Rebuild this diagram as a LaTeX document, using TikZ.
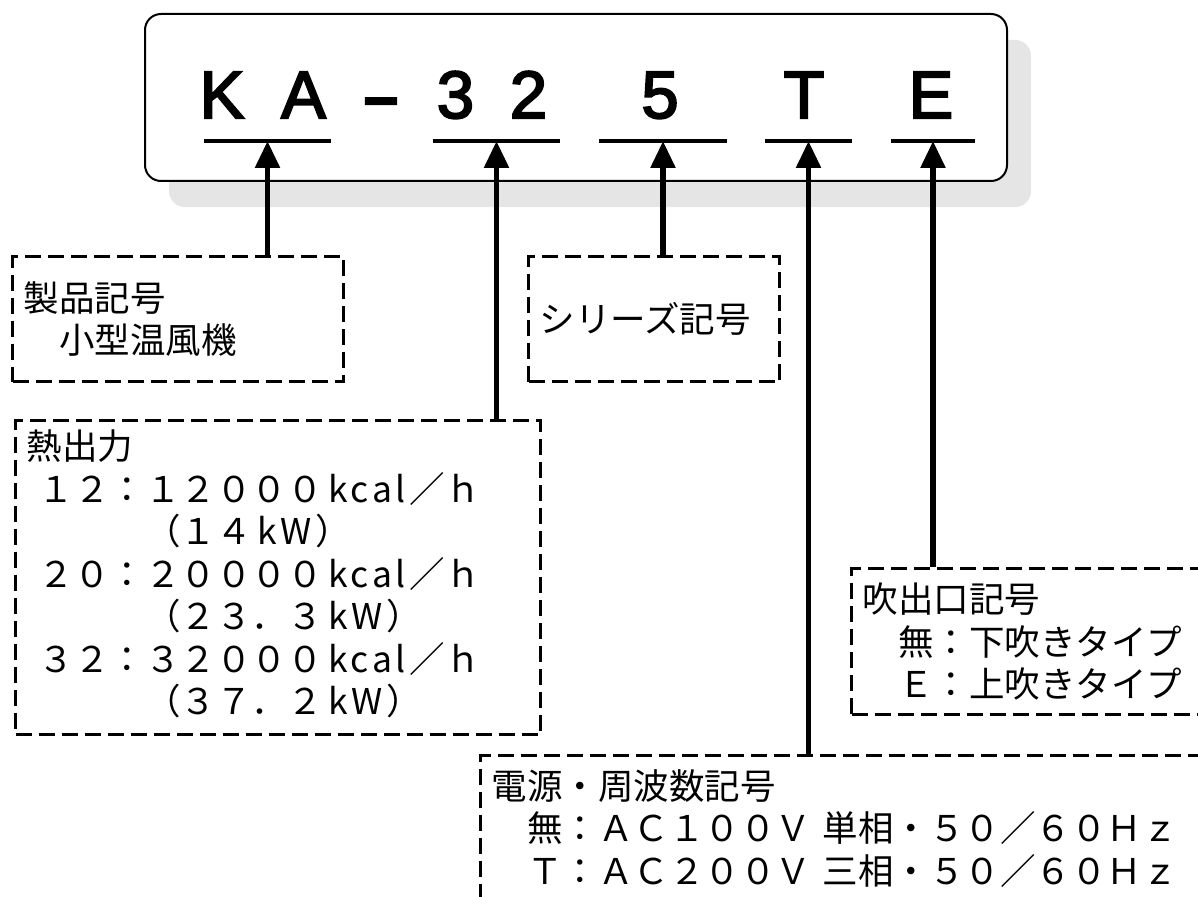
\documentclass[tikz,border=0pt]{standalone}
\usepackage{fontspec}
\setmainfont{Noto Sans CJK JP}
\newfontfamily\codefont[FakeBold=3]{Liberation Sans}
\newcommand\spaced[1]{\hspace{6pt}{\addfontfeature{LetterSpace=10}#1}\hspace{4pt}}
\usetikzlibrary{arrows.meta}
\usetikzlibrary{shadows}
\tikzset{
  plate/.style={draw, fill=white, line width=2pt, rounded corners=16pt,
    minimum width=862pt, minimum height=167pt},
  codechar/.style={anchor=base, inner sep=0pt,
    font=\codefont\fontsize{67}{67}\selectfont},
  keybox/.style={draw, line width=3pt, dash pattern=on 16pt off 7pt,
    anchor=north west, align=left, inner xsep=11pt, inner ysep=0pt,
    font=\fontsize{35.5}{42.5}\selectfont},
  uline/.style={line width=4pt},
  pointer/.style={line width=5.5pt, -{Triangle[length=27pt,width=24pt]}}
}

\begin{document}
\begin{tikzpicture}[x=1pt, y=-1pt, line join=miter]
\useasboundingbox (0,0) rectangle (1198,896);
\clip (0,0) rectangle (1198,896);
% model plate
\node[plate, drop shadow={shadow xshift=24pt, shadow yshift=-26pt,
  fill=black!10, opacity=1}] (plate) at (576,97.5) {};
\foreach \x/\ch/\nm in {222/K/ck, 303.5/A/ca, 455.5/3/cthree, 528.5/2/ctwo,
    660/5/cfive, 804/T/ct, 931/E/ce}
  \node[codechar] (\nm) at (\x,118) {\ch};
\node[codechar] (cdash) at (381,115) {\scalebox{1.7}[0.8]{\bfseries -}};
% key boxes
\node[keybox, minimum width=331pt, minimum height=125pt, text width=309pt]
  (prod) at (11,255) {製品記号\\　小型温風機};
\node[keybox, minimum width=251pt, minimum height=125pt, text width=229pt]
  (series) at (527,255) {シリーズ記号};
\node[keybox, minimum width=525pt, minimum height=314pt, text width=503pt]
  (heat) at (14,419) {熱出力\\
  \hspace*{12pt}１２：１２０００\spaced{kcal}／ｈ\\
  \hspace*{12pt}　　　（１４\spaced{kW}）\\
  \hspace*{12pt}２０：２００００\spaced{kcal}／ｈ\\
  \hspace*{12pt}　　　（２３．３\spaced{kW}）\\
  \hspace*{12pt}３２：３２０００\spaced{kcal}／ｈ\\
  \hspace*{12pt}　　　（３７．２\spaced{kW}）\rule[-10pt]{0pt}{10pt}};
\node[keybox, minimum width=380pt, minimum height=146pt, text width=358pt]
  (outlet) at (850,567) {吹出口記号\\　無：下吹きタイプ\\　Ｅ：上吹きタイプ};
\node[keybox, minimum width=760pt, minimum height=146pt, text width=738pt]
  (power) at (479,754) {電源・周波数記号\\
  　無：ＡＣ１００Ｖ 単相・５０／６０Ｈｚ\\
  　Ｔ：ＡＣ２００Ｖ 三相・５０／６０Ｈｚ};
% underlines and pointers
\foreach \a/\b/\bx in {204/331/prod, 433/560/heat, 599/727/series,
    765/852/power, 891/975/outlet} {
  \coordinate (ul-\bx) at ({(\a+\b)/2},141);
  \draw[uline] (\a,141) -- (\b,141);
  \draw[pointer] (ul-\bx |- \bx.north) -- (ul-\bx);
}
\end{tikzpicture}
\end{document}
